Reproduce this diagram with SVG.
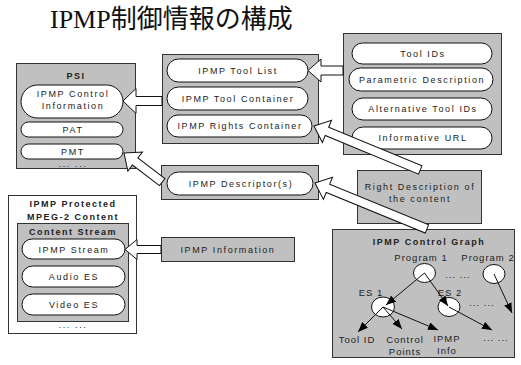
<svg xmlns="http://www.w3.org/2000/svg" width="521" height="365" viewBox="0 0 521 365">
<defs>
<style>
.box{fill:#c0c0c0;stroke:#333;stroke-width:1}
.wbox{fill:#fff;stroke:#333;stroke-width:1}
.pill{fill:#fff;stroke:#111;stroke-width:1}
.t{font-family:"Liberation Sans",Arial,sans-serif;font-size:9px;letter-spacing:1.6px;fill:#222;text-anchor:middle}
.b{font-weight:bold;letter-spacing:1.5px}
.g{font-family:"Liberation Sans",Arial,sans-serif;font-size:9.5px;letter-spacing:1px;fill:#222;text-anchor:middle}
.blk{fill:#fff;stroke:#111;stroke-width:1;stroke-linejoin:miter}
.tl{stroke:#111;stroke-width:1;fill:none;marker-end:url(#ah)}
.nd{fill:#fff;stroke:#111;stroke-width:1}
</style>
<marker id="ah" viewBox="0 0 10 8" refX="10" refY="4" markerWidth="10" markerHeight="8" markerUnits="userSpaceOnUse" orient="auto">
<path d="M0,0 L10,4 L0,8 Z" fill="#000"/>
</marker>
</defs>
<rect width="521" height="365" fill="#fff"/>
<text x="50" y="28" font-family="'Liberation Serif','Noto Sans CJK JP',serif" font-size="26" fill="#111">IPMP制御情報の構成</text>

<g id="tool-info">
<rect class="box" x="343.5" y="33.5" width="158" height="121"/>
<rect class="pill" x="352" y="43" width="140" height="21" rx="10.5"/>
<text class="t" x="423" y="56.5">Tool IDs</text>
<rect class="pill" x="349" y="68" width="144" height="23" rx="11.5"/>
<text class="t" x="422" y="82.5">Parametric Description</text>
<rect class="pill" x="352" y="98" width="140" height="22" rx="11"/>
<text class="t" x="423" y="112">Alternative Tool IDs</text>
<rect class="pill" x="352" y="127" width="140" height="22" rx="11"/>
<text class="t" x="423" y="141">Informative URL</text>
</g>

<g id="ipmp-control-info">
<rect class="box" x="162.5" y="54.5" width="156" height="89"/>
<rect class="pill" x="167" y="59" width="141" height="23" rx="11.5"/>
<text class="t" x="238" y="73.5">IPMP Tool List</text>
<rect class="pill" x="167" y="87" width="141" height="23" rx="11.5"/>
<text class="t" x="238" y="101.5">IPMP Tool Container</text>
<rect class="pill" x="167" y="115" width="145" height="22" rx="11"/>
<text class="t" x="240" y="129">IPMP Rights Container</text>
</g>

<g id="psi">
<rect class="box" x="16.5" y="63.5" width="119" height="105"/>
<text class="t b" x="76" y="79">PSI</text>
<rect class="pill" x="21" y="85" width="102" height="33" rx="16.5"/>
<text class="t" x="73" y="96.5">IPMP Control</text>
<text class="t" x="73" y="108.5">Information</text>
<rect class="pill" x="21" y="122" width="102" height="15" rx="7.5"/>
<text class="t" x="73" y="132.5">PAT</text>
<rect class="pill" x="21" y="144" width="102" height="15" rx="7.5"/>
<text class="t" x="73" y="155">PMT</text>
<text class="t" x="73" y="167">... ...</text>
</g>

<g id="ipmp-descriptor">
<rect class="box" x="161.5" y="165.5" width="157" height="34"/>
<rect class="pill" x="167" y="172" width="146" height="23" rx="11.5"/>
<text class="t" x="241" y="186.5">IPMP Descriptor(s)</text>
</g>

<g id="ipmp-information">
<rect class="box" x="161.5" y="237.5" width="133" height="24"/>
<text class="t" x="228" y="252.5">IPMP Information</text>
</g>

<g id="protected-content">
<rect class="wbox" x="8.5" y="195.5" width="128" height="138"/>
<text class="t b" x="73" y="206.5">IPMP Protected</text>
<text class="t b" x="73" y="219.5">MPEG-2 Content</text>
<rect class="box" x="17.5" y="223.5" width="111" height="98"/>
<text class="t b" x="73" y="234.5">Content Stream</text>
<rect class="pill" x="22" y="239" width="103" height="20" rx="10"/>
<text class="t" x="74" y="252.5">IPMP Stream</text>
<rect class="pill" x="22" y="266" width="103" height="21" rx="10.5"/>
<text class="t" x="74" y="280">Audio ES</text>
<rect class="pill" x="22" y="294" width="103" height="21" rx="10.5"/>
<text class="t" x="74" y="308">Video ES</text>
<text class="t" x="73" y="328">... ...</text>
</g>

<g id="right-description">
<rect class="box" x="357.5" y="170.5" width="124" height="53"/>
<text class="t" x="420" y="190">Right Description of</text>
<text class="t" x="420" y="202">the content</text>
</g>

<g id="control-graph">
<rect class="box" x="332.5" y="229.5" width="182" height="128"/>
<text class="t b" x="429" y="245">IPMP Control Graph</text>
<ellipse class="nd" cx="424.5" cy="273" rx="11" ry="9.5"/>
<ellipse class="nd" cx="494" cy="274" rx="11" ry="9.5"/>
<ellipse class="nd" cx="383" cy="307" rx="11.5" ry="10"/>
<ellipse class="nd" cx="449" cy="307" rx="11" ry="9.5"/>
<text class="g" x="421" y="260.5">Program 1</text>
<text class="g" x="488" y="260.5">Program 2</text>
<text class="g" x="458" y="278">... ...</text>
<text class="g" x="371" y="296">ES 1</text>
<text class="g" x="450" y="296">ES 2</text>
<text class="g" x="482" y="306">... ...</text>
<text class="g" x="357" y="343">Tool ID</text>
<text class="g" x="405" y="343">Control</text>
<text class="g" x="405" y="355">Points</text>
<text class="g" x="447" y="342">IPMP</text>
<text class="g" x="447" y="354">Info</text>
<text class="g" x="496" y="341">... ...</text>
<line class="tl" x1="424.5" y1="273" x2="386" y2="305"/>
<line class="tl" x1="424.5" y1="273" x2="448" y2="306"/>
<line class="tl" x1="494" y1="274" x2="512" y2="313"/>
<line class="tl" x1="383" y1="307" x2="358" y2="332"/>
<line class="tl" x1="383" y1="307" x2="402" y2="329"/>
<line class="tl" x1="383" y1="307" x2="438" y2="330"/>
<line class="tl" x1="449" y1="307" x2="492" y2="330"/>
</g>

<g id="connectors">
<polygon class="blk" points="308,70.5 321,59 321,66 343,66 343,75 321,75 321,82"/>
<polygon class="blk" points="123,101 136,88.5 136,96.5 162,96.5 162,105.5 136,105.5 136,113.5"/>
<polygon class="blk" points="0,0 14,-12 14,-4.5 48,-4.5 48,4.5 14,4.5 14,12" transform="translate(124,153) rotate(37.3)"/>
<polygon class="blk" points="0,0 14,-12 14,-4.5 115,-4.5 115,4.5 14,4.5 14,12" transform="translate(314,126) rotate(22.5)"/>
<polygon class="blk" points="0,0 14,-12 14,-4.5 121,-4.5 121,4.5 14,4.5 14,12" transform="translate(315,183) rotate(22.3)"/>
<polygon class="blk" points="125,249.5 137,239.5 137,245.5 161,245.5 161,253.5 137,253.5 137,259.5"/>
</g>
</svg>
